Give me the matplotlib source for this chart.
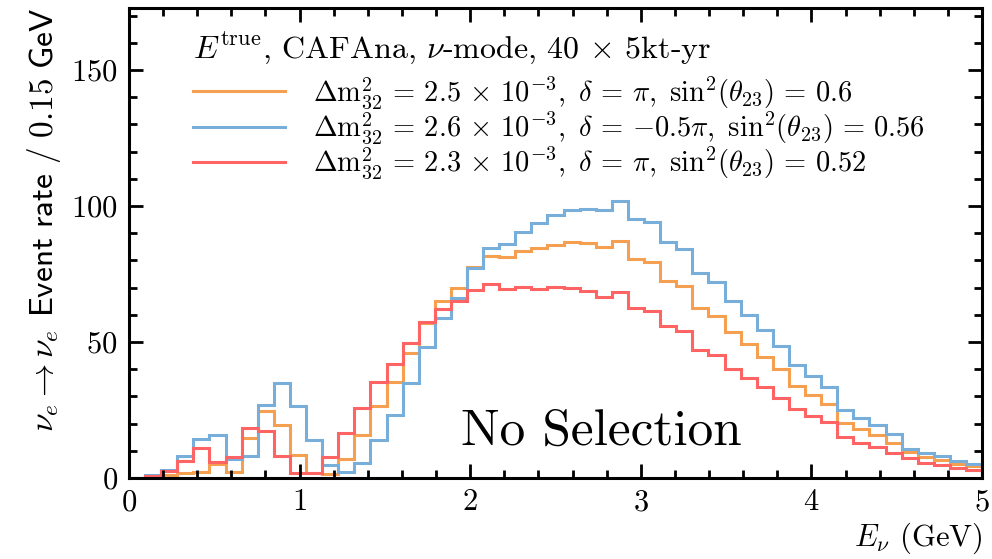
import numpy as np
import matplotlib
matplotlib.use("Agg")
import matplotlib.pyplot as plt

plt.rcParams['font.family'] = 'cmr10'
plt.rcParams['mathtext.fontset'] = 'cm'
plt.rcParams['axes.formatter.use_mathtext'] = True

# 53 bins between 0 and 5 GeV
edges = np.linspace(0, 5, 54)

# dm2 = 2.5e-3, delta = pi, sin2 = 0.6
orange_rate = [0, 0.3, 1.0, 1.8, 2.1, 5.0, 2.3, 14.7, 24.5, 19.3,
               8.6, 2.0, 1.5, 7.0, 15.9, 26.3, 35.4, 45.9, 56.8, 64.9,
               70.0, 77.6, 81.7, 81.1, 83.3, 84.5, 85.8, 86.8, 86.3, 84.8,
               87.2, 80.5, 79.3, 72.3, 70.5, 62.4, 59.7, 53.8, 49.1, 44.5,
               40.0, 33.9, 30.5, 27.3, 20.3, 17.9, 15.9, 12.8, 9.4, 7.7,
               6.6, 5.3, 4.4]
# dm2 = 2.6e-3, delta = -0.5pi, sin2 = 0.56
blue_rate = [0, 1.0, 3.1, 8.1, 14.2, 15.9, 6.9, 8.0, 26.8, 34.8,
             26.5, 14.0, 4.9, 2.1, 5.6, 13.9, 23.3, 34.9, 48.0, 58.9,
             66.3, 77.2, 84.4, 86.0, 90.3, 93.6, 96.8, 98.6, 99.0, 98.4,
             101.7, 95.2, 94.1, 86.8, 84.3, 75.2, 71.9, 65.1, 60.0, 54.3,
             48.7, 41.4, 37.5, 33.5, 25.0, 22.0, 19.4, 16.0, 10.8, 9.3,
             8.1, 6.1, 5.2]
# dm2 = 2.3e-3, delta = pi, sin2 = 0.52
red_rate = [0, 0.7, 2.6, 6.3, 11.0, 5.8, 7.8, 18.5, 17.1, 8.2,
            1.7, 1.7, 7.7, 16.5, 25.9, 35.2, 41.8, 49.6, 57.5, 62.3,
            65.2, 69.0, 71.3, 69.5, 70.1, 69.5, 70.2, 69.8, 68.6, 66.5,
            68.2, 62.5, 61.3, 55.7, 53.9, 47.1, 45.3, 40.1, 36.6, 33.3,
            29.4, 25.3, 22.7, 20.4, 15.2, 13.0, 11.4, 9.2, 7.2, 5.5,
            4.7, 3.8, 3.1]

labels = [r'$\Delta \mathrm{m}^2_{32} \,=\, 2.5 \,\times\, 10^{-3},\ \delta \,=\, \pi,\ \mathrm{sin}^2(\theta_{23}) \,=\, 0.6$',
          r'$\Delta \mathrm{m}^2_{32} \,=\, 2.6 \,\times\, 10^{-3},\ \delta \,=\, {-0.5}\pi,\ \mathrm{sin}^2(\theta_{23}) \,=\, 0.56$',
          r'$\Delta \mathrm{m}^2_{32} \,=\, 2.3 \,\times\, 10^{-3},\ \delta \,=\, \pi,\ \mathrm{sin}^2(\theta_{23}) \,=\, 0.52$']
colors = ['#F5A050', '#78AEDA', '#FF6464']

fig = plt.figure(figsize=(9.92, 5.59), dpi=100)
ax = fig.add_axes([0.130, 0.145, 0.860, 0.841])

for vals, lab, c in zip([orange_rate, blue_rate, red_rate], labels, colors):
    ax.stairs(vals, edges, color=c, lw=2.2, label=lab)

ax.set_xlim(0, 5)
ax.set_ylim(0, 1.7 * max(blue_rate))
ax.set_xticks(np.arange(0, 5.1, 1))
ax.set_xticks(np.arange(0, 5.01, 0.2), minor=True)
ax.set_yticks([0, 50, 100, 150])
ax.set_yticks(np.arange(0, 171, 10), minor=True)
ax.tick_params(which='both', direction='in', top=True, right=True, width=2, labelsize=22)
ax.tick_params(which='major', length=10, pad=8)
ax.tick_params(which='minor', length=5.5)
for s in ax.spines.values():
    s.set_linewidth(2.2)

ax.set_xlabel(r'$E_\nu$ (GeV)', loc='right', fontsize=22, labelpad=3)
ax.set_ylabel(r'$\nu_e \rightarrow \nu_e$ $\mathsf{Event\ rate\ /\ 0.15\ GeV}$',
              loc='top', fontsize=24, labelpad=6)

ax.text(0.075, 0.915, r'$E^{\rm true}$, CAFAna, $\nu$-mode, 40 $\times$ 5kt-yr',
        transform=ax.transAxes, fontsize=23, ha='left', va='center')
leg = ax.legend(loc='upper left', bbox_to_anchor=(0.075, 0.857), frameon=False, borderpad=0,
                borderaxespad=0, fontsize=20.5, handlelength=3.25, handletextpad=0.95,
                labelspacing=0.0)

ax.text(2.77, 17, 'No Selection', fontsize=37, ha='center', va='center')

fig.savefig('out.png', dpi=100)
